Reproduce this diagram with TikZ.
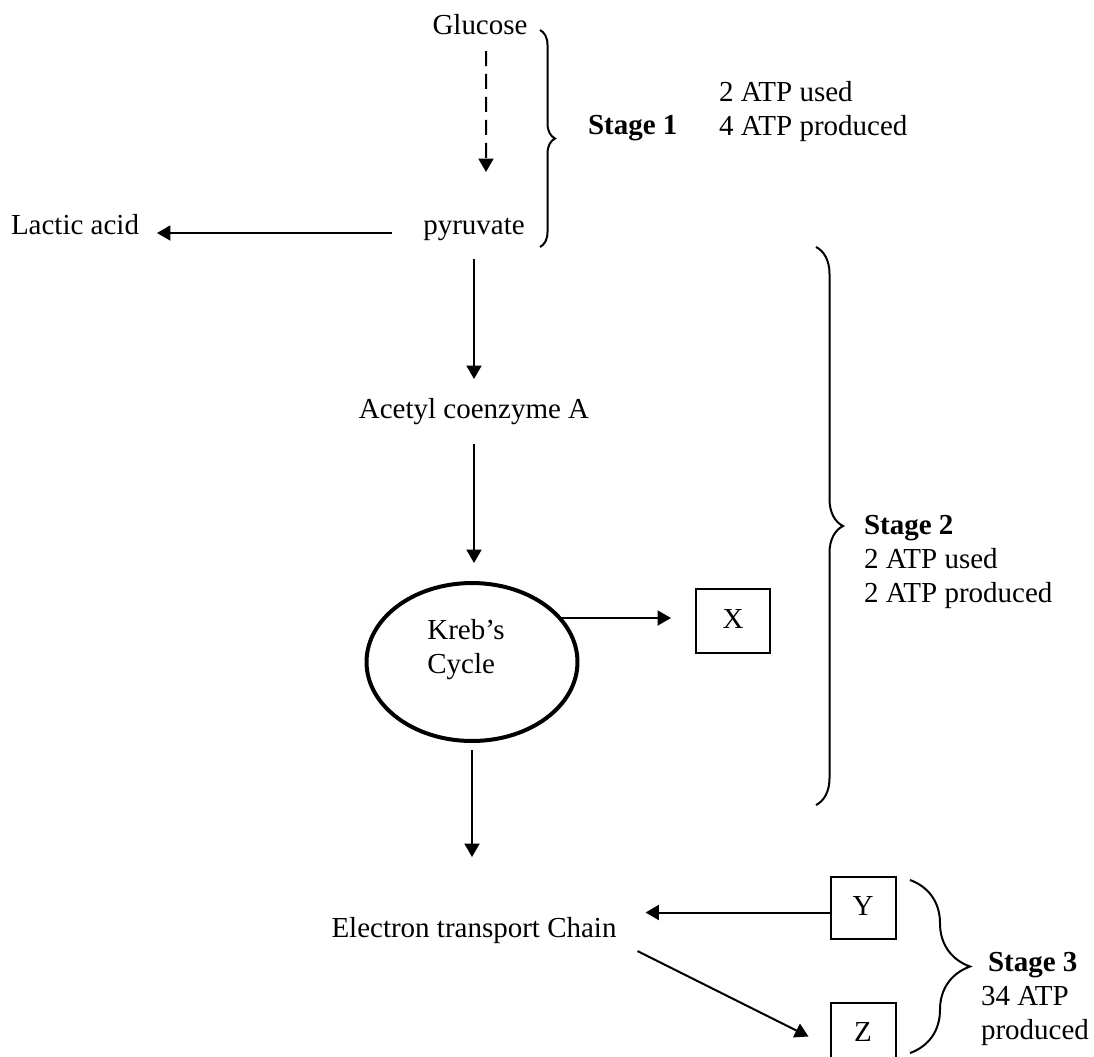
\documentclass[tikz,border=0pt]{standalone}
\usepackage{fontspec}
\setmainfont{Liberation Serif}
\usetikzlibrary{shapes, arrows.meta, calc, positioning, decorations.pathreplacing}

\begin{document}
\begin{tikzpicture}[x=0.02cm, y=-0.02cm, line width=0.04cm,
        every node/.style={font=\fontsize{16.5}{19.3}\selectfont, inner sep=0pt},
        txt/.style={text height=0.4cm, text depth=0.12cm},
        lbl/.style={align=left, anchor=north west},
        letterbox/.style={draw, txt, minimum width=1.3cm, minimum height=1.24cm},
        arr/.style={-{Triangle[length=0.27cm, width=0.3cm]}},
        stagebrace/.style={decorate, decoration={brace, amplitude=#1}}]
    \useasboundingbox (0,0) rectangle (1094,1056);

    \node[txt] (glucose) at (480,27) {Glucose};
    \node[txt] (pyruvate) at (474,227) {pyruvate};
    \node[txt] (lactic) at (75,227) {Lactic acid};
    \node[txt] (acetyl) at (474,411) {Acetyl coenzyme A};
    \node[draw, ellipse, line width=0.08cm, minimum width=4.22cm, minimum height=3.16cm] (krebs) at (472,662) {};
    \node[align=left] (krebslbl) at (466,650) {Kreb’s\\Cycle};
    \node[txt] (etc) at (474,930) {Electron transport Chain};
    \node[letterbox, minimum width=1.48cm, minimum height=1.28cm] (X) at (733,621) {X};
    \node[letterbox] (Y) at (863,908) {Y};
    \node[letterbox] (Z) at (863,1034) {Z};

    \node[txt, anchor=west] (stage1) at (587,127) {\textbf{Stage 1}};
    \node[lbl] (atp1) at (718,80) {2 ATP used\\4 ATP produced};
    \node[lbl] (stage2) at (863,514) {\textbf{Stage 2}\\2 ATP used\\2 ATP produced};
    \node[lbl] (stage3) at (980,951) {\hspace*{0.14cm}\textbf{Stage 3}\\34 ATP\\produced};

    \draw[arr, dash pattern=on 0.3cm off 0.16cm, shorten <=0.2cm, shorten >=0.82cm] ([xshift=0.12cm]glucose.south) -- ([xshift=0.24cm]pyruvate.north);
    \draw[arr, shorten <=0.6cm, shorten >=0.34cm] ([yshift=-0.12cm]pyruvate.west) -- ([yshift=-0.12cm]lactic.east);
    \draw[arr, shorten <=0.36cm, shorten >=0.36cm] (pyruvate.south) -- (acetyl.north);
    \draw[arr, shorten <=0.38cm, shorten >=0.36cm] (acetyl.south) -- (acetyl.south |- krebs.north);
    \draw[arr, shorten >=0.48cm] (krebs.26) -- (krebs.26 -| X.west);
    \draw[arr, shorten <=0.14cm, shorten >=1.18cm] (krebs.south) -- (krebs.south |- etc.north);
    \draw[arr, shorten >=0.56cm] ([yshift=-0.09cm]Y.west) -- ([yshift=-0.09cm]Y.west -| etc.east);
    \draw[arr, shorten >=0.47cm] ([xshift=0.4cm, yshift=-0.14cm]etc.south east) -- ([yshift=-0.26cm]Z.west);

    \draw[stagebrace=0.3cm] (540,30) -- (540,247);
    \draw[stagebrace=0.54cm] (816,247) -- (816,805);
    \draw[stagebrace=1.2cm] (910,880) -- (910,1053);
\end{tikzpicture}
\end{document}
